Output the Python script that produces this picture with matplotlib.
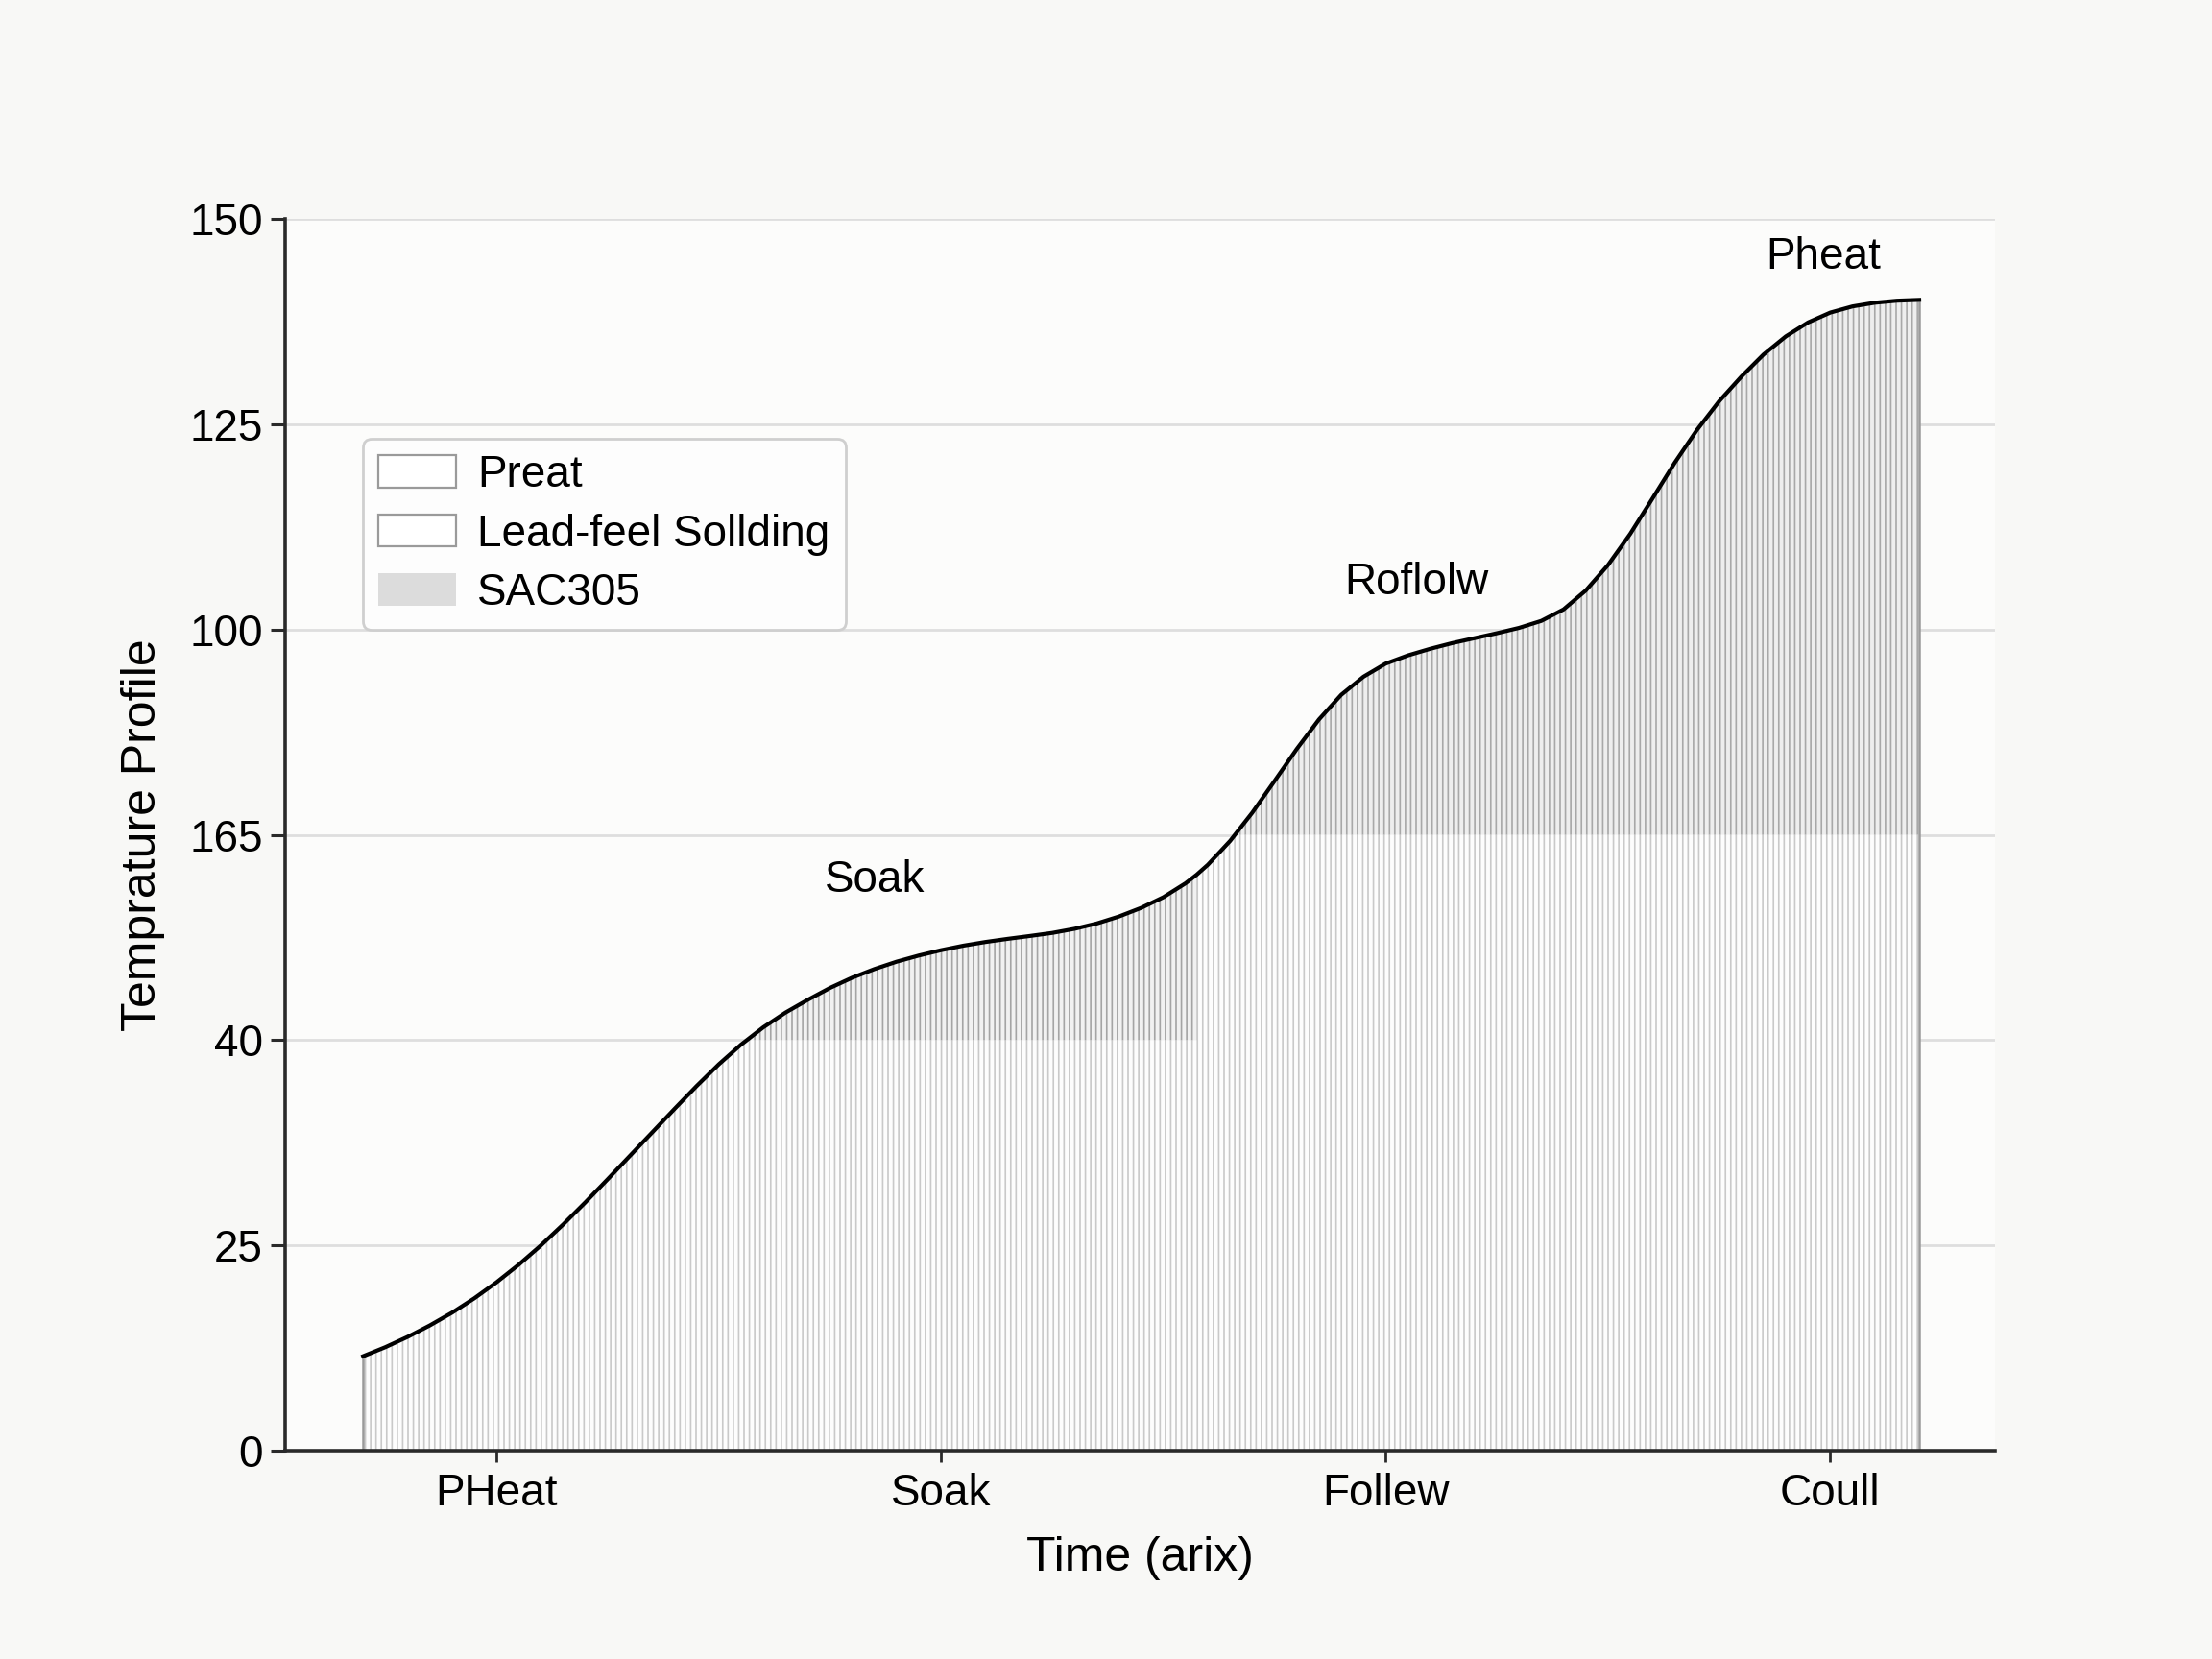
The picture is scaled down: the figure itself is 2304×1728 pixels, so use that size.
import numpy as np
import matplotlib
matplotlib.use('Agg')
import matplotlib.pyplot as plt
from matplotlib.patches import Patch

plt.rcParams['font.family'] = ['Liberation Sans', 'DejaVu Sans']
plt.rcParams['hatch.linewidth'] = 0.6

# Temperature curve (x in phase units, tick i = phase i)
time_x = [-0.30, -0.25, -0.20, -0.15, -0.10, -0.05, 0.00, 0.05, 0.10, 0.15,
          0.20, 0.25, 0.30, 0.35, 0.40, 0.45, 0.50, 0.55, 0.60, 0.65,
          0.70, 0.75, 0.80, 0.85, 0.90, 0.95, 1.00, 1.05, 1.10, 1.15,
          1.20, 1.25, 1.30, 1.35, 1.40, 1.45, 1.50, 1.55, 1.575, 1.60,
          1.65, 1.70, 1.75, 1.80, 1.85, 1.90, 1.95, 2.00, 2.05, 2.10,
          2.15, 2.20, 2.25, 2.30, 2.35, 2.40, 2.45, 2.50, 2.55, 2.60,
          2.65, 2.70, 2.75, 2.80, 2.85, 2.90, 2.95, 3.00, 3.05, 3.10,
          3.15, 3.20]
temperature = [11.5, 12.6, 13.85, 15.25, 16.8, 18.55, 20.5, 22.65, 25.0, 27.55,
               30.25, 33.05, 35.9, 38.75, 41.6, 44.4, 47.05, 49.45, 51.55, 53.35,
               54.9, 56.35, 57.6, 58.65, 59.55, 60.3, 60.95, 61.5, 61.95, 62.33,
               62.68, 63.05, 63.55, 64.2, 65.05, 66.1, 67.4, 69.1, 70.15, 71.35,
               74.25, 77.7, 81.55, 85.45, 89.05, 92.05, 94.25, 95.85, 96.85, 97.65,
               98.35, 98.95, 99.55, 100.2, 101.05, 102.45, 104.75, 107.85, 111.65, 115.95,
               120.3, 124.3, 127.8, 130.8, 133.5, 135.7, 137.4, 138.6, 139.35, 139.8,
               140.05, 140.15]

# zone thresholds / extents
soak_base, soak_end = 50, 1.58
reflow_base, reflow_start = 75, 1.60

phase_ticks = [0, 1, 2, 3]
phase_labels = ['PHeat', 'Soak', 'Follew', 'Coull']
y_ticks = [0, 25, 50, 75, 100, 125, 150]
y_labels = ['0', '25', '40', '165', '100', '125', '150']

legend_labels = ['Preat', 'Lead-feel Sollding', 'SAC305']

# (label, x, y)
annotations = [('Soak', 0.85, 69.5), ('Roflolw', 2.07, 105.7), ('Pheat', 2.985, 145.3)]

x = np.array(time_x)
y = np.array(temperature)

fig = plt.figure(figsize=(11.52, 8.64), dpi=200, facecolor='#f8f8f6')
ax = fig.add_axes([0.129, 0.1256, 0.773, 0.7424])
ax.set_facecolor('#fcfcfb')

# light hatched area under the whole curve
ax.fill_between(x, 0, y, facecolor='#fdfdfd', edgecolor='#c9c9c9',
                hatch='||||||', linewidth=0, zorder=2)

# darker hatched zones
ax.fill_between(x, soak_base, y, where=(y >= soak_base) & (x <= soak_end),
                interpolate=True, facecolor='#f1f1f1', edgecolor='#a4a4a4',
                hatch='||||||', linewidth=0, zorder=3)
ax.fill_between(x, reflow_base, y, where=(y >= reflow_base) & (x >= reflow_start),
                interpolate=True, facecolor='#eeeeee', edgecolor='#a8a8a8',
                hatch='||||||', linewidth=0, zorder=3)

ax.vlines([x[0], x[-1]], 0, [y[0], y[-1]], color='#9a9a9a', lw=0.9, zorder=4)
ax.plot(x, y, color='black', lw=1.5, zorder=5, solid_joinstyle='round')

for text, tx, ty in annotations:
    ax.text(tx, ty, text, ha='center', va='center', fontsize=16.5, zorder=6)

ax.set_xlim(-0.475, 3.371)
ax.set_ylim(0, 150)
ax.set_yticks(y_ticks)
ax.set_yticklabels(y_labels)
ax.set_xticks(phase_ticks)
ax.set_xticklabels(phase_labels)
ax.grid(axis='y', color='#dedede', lw=1.0, zorder=1)
ax.set_axisbelow(True)

for side in ['top', 'right']:
    ax.spines[side].set_visible(False)
for side in ['left', 'bottom']:
    ax.spines[side].set_color('#2a2a2a')
    ax.spines[side].set_linewidth(1.3)
    ax.spines[side].set_zorder(7)

ax.tick_params(axis='y', length=5.5, width=1.1, color='#2a2a2a', pad=3, labelsize=16.5)
ax.tick_params(axis='x', direction='inout', length=8.5, width=1.0, color='#2a2a2a',
               pad=4, labelsize=16.5)

ax.set_xlabel('Time (arix)', fontsize=18, labelpad=8)
ax.set_ylabel('Temprature Profile', fontsize=18, labelpad=9)

handles = [
    Patch(facecolor='white', edgecolor='#9a9a9a', linewidth=0.8),
    Patch(facecolor='white', edgecolor='#9a9a9a', linewidth=0.8),
    Patch(facecolor='#dcdcdc', edgecolor='none'),
]
leg = ax.legend(handles, legend_labels, loc='upper left', bbox_to_anchor=(0.0455, 0.8215),
                borderaxespad=0, fontsize=16.5, handlelength=1.75, handleheight=0.75,
                handletextpad=0.5, labelspacing=0.38, borderpad=0.35,
                frameon=True, fancybox=True, framealpha=1.0)
leg.get_frame().set_edgecolor('#cfcfcf')
leg.get_frame().set_facecolor('#fdfdfd')
leg.get_frame().set_linewidth(1.0)
leg.set_zorder(8)

fig.savefig('out.png', dpi=200, facecolor=fig.get_facecolor())
